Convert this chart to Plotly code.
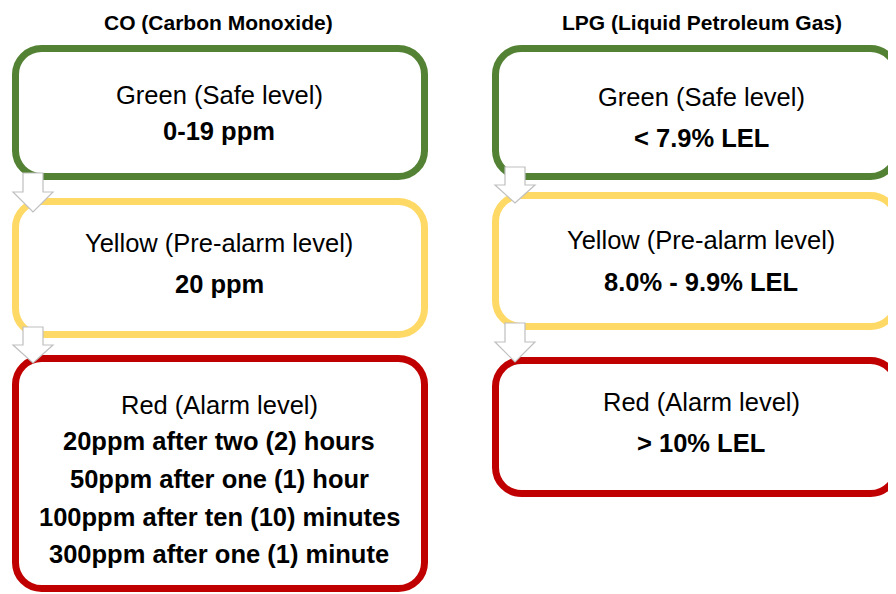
import plotly.graph_objects as go

# ---- data ----
gases = ["CO (Carbon Monoxide)", "LPG (Liquid Petroleum Gas)"]
level_names = ["Green (Safe level)", "Yellow (Pre-alarm level)", "Red (Alarm level)"]
level_colors = ["#548235", "#FFD966", "#C00000"]
co_thresholds = [
    ["0-19 ppm"],
    ["20 ppm"],
    ["20ppm after two (2) hours", "50ppm after one (1) hour",
     "100ppm after ten (10) minutes", "300ppm after one (1) minute"],
]
lpg_thresholds = [
    ["< 7.9% LEL"],
    ["8.0% - 9.9% LEL"],
    ["> 10% LEL"],
]

# ---- layout geometry (pixels, page coordinates) ----
PAGE_OFF = 8           # default body margin of the html page
W, H = 896 - PAGE_OFF, 594 - PAGE_OFF
FONT = "Liberation Sans, Arial, sans-serif"
STROKE = 7
RADIUS = 26

columns = [
    dict(title_x=218, title_y=22, x0=12, x1=428,
         boxes=[(45, 180), (198, 338), (355, 592)],
         text_y=[[95, 131], [243, 284], [405, 441, 479, 517, 554]],
         arrows=[(33, 173, 192, 212), (33, 327, 345, 363)]),
    dict(title_x=702, title_y=22, x0=492, x1=900,
         boxes=[(45, 180), (192, 330), (357, 497)],
         text_y=[[97, 138], [240, 282], [402, 443]],
         arrows=[(515, 167, 185, 203), (515, 323, 342, 362)]),
]
thresholds = [co_thresholds, lpg_thresholds]


def rounded_rect(x0, y0, x1, y1, r):
    k = 0.5523 * r
    return (f"M {x0+r},{y0} L {x1-r},{y0} "
            f"C {x1-r+k},{y0} {x1},{y0+r-k} {x1},{y0+r} "
            f"L {x1},{y1-r} "
            f"C {x1},{y1-r+k} {x1-r+k},{y1} {x1-r},{y1} "
            f"L {x0+r},{y1} "
            f"C {x0+r-k},{y1} {x0},{y1-r+k} {x0},{y1-r} "
            f"L {x0},{y0+r} "
            f"C {x0},{y0+r-k} {x0+r-k},{y0} {x0+r},{y0} Z")


def down_arrow(cx, top, neck, tip, shaft_hw=10, head_hw=20):
    return (f"M {cx-shaft_hw},{top} L {cx+shaft_hw},{top} L {cx+shaft_hw},{neck} "
            f"L {cx+head_hw},{neck} L {cx},{tip} L {cx-head_hw},{neck} "
            f"L {cx-shaft_hw},{neck} Z")


fig = go.Figure()
shapes = []
annotations = []
h = STROKE / 2

for ci, col in enumerate(columns):
    annotations.append(dict(x=col["title_x"], y=col["title_y"], text=f"<b>{gases[ci]}</b>",
                            showarrow=False, xanchor="center", yanchor="middle",
                            font=dict(family=FONT, size=21, color="#000000")))
    for li, (y0, y1) in enumerate(col["boxes"]):
        shapes.append(dict(type="path",
                           path=rounded_rect(col["x0"] + h, y0 + h, col["x1"] - h, y1 - h, RADIUS),
                           line=dict(color=level_colors[li], width=STROKE),
                           fillcolor="white", layer="below"))
        lines = [level_names[li]] + thresholds[ci][li]
        tx = col["title_x"] + (1 if ci == 0 else -1)
        for j, (txt, ty) in enumerate(zip(lines, col["text_y"][li])):
            annotations.append(dict(x=tx, y=ty,
                                    text=txt if j == 0 else f"<b>{txt}</b>",
                                    showarrow=False, xanchor="center", yanchor="middle",
                                    font=dict(family=FONT, size=25.5, color="#000000")))
    for (ax, top, neck, tip) in col["arrows"]:
        shapes.append(dict(type="path", path=down_arrow(ax, top, neck, tip),
                           line=dict(color="#BFBFBF", width=1.2),
                           fillcolor="white", layer="above"))

fig.update_layout(
    width=W, height=H,
    margin=dict(l=0, r=0, t=0, b=0),
    paper_bgcolor="white", plot_bgcolor="white",
    xaxis=dict(range=[PAGE_OFF, 896], visible=False, fixedrange=True),
    yaxis=dict(range=[594, PAGE_OFF], visible=False, fixedrange=True),
    shapes=shapes, annotations=annotations,
    showlegend=False,
)
fig.write_html("out.html")
